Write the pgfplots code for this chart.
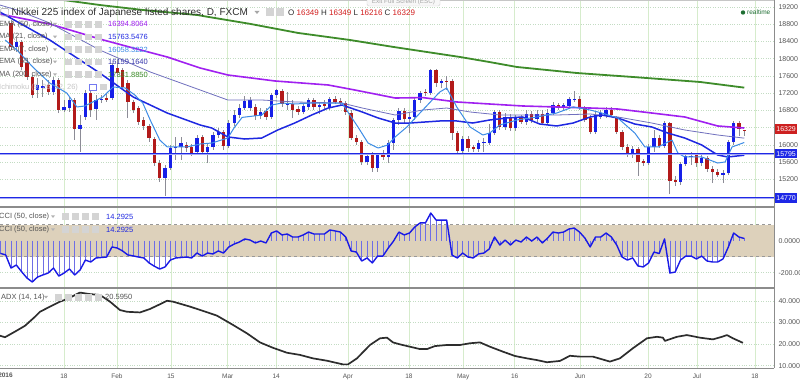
\documentclass[border=0pt]{standalone}
\usepackage{fontspec}
\setmainfont{Liberation Sans}
\usepackage{pgfplots}
\usepackage{pgfplotstable}
\pgfplotsset{compat=1.18}

\definecolor{cred}{RGB}{178,26,26}
\definecolor{cblue}{RGB}{22,32,232}
\definecolor{wick}{RGB}{140,140,150}
\definecolor{emapurple}{RGB}{160,32,240}
\definecolor{mathin}{RGB}{112,112,190}
\definecolor{mablue}{RGB}{30,40,225}
\definecolor{emalight}{RGB}{60,140,230}
\definecolor{smagreen}{RGB}{62,140,42}
\definecolor{hline}{RGB}{30,40,230}
\definecolor{gridv}{RGB}{214,236,204}
\definecolor{gridh}{RGB}{195,220,195}
\definecolor{beige}{RGB}{221,209,187}
\definecolor{cciline}{RGB}{25,25,230}
\definecolor{ccistem}{RGB}{110,110,230}
\definecolor{adxc}{RGB}{45,45,45}
\definecolor{sepgray}{RGB}{140,140,140}
\definecolor{labgray}{RGB}{85,85,85}
\definecolor{boxred}{RGB}{205,32,32}
\definecolor{boxblue}{RGB}{30,40,230}
\definecolor{ohlcred}{RGB}{210,30,30}
\definecolor{icongray}{RGB}{212,212,212}
\definecolor{rtgreen}{RGB}{30,110,50}
\definecolor{titlegray}{RGB}{45,45,45}
\definecolor{v4}{RGB}{50,50,170}

\pgfplotstableread{
i o h l c
1 18274 18482 18158 18390
5 17276 17554 17090 17392
6 17322 17508 17114 17369
8 17230 17578 17160 17508
10 16812 17044 16766 16882
11 16858 17114 16766 17044
13 16371 16696 15838 16464
14 16650 17276 16580 17206
16 16835 17160 16580 17044
17 17044 17160 16974 17067
19 17090 17902 17044 17856
29 15234 15536 14817 15466
30 15466 16000 15420 15930
31 15930 16186 15652 15954
32 15954 16186 15652 16046
35 15838 16232 15768 16162
37 15838 16046 15582 15954
38 15954 16302 15884 16232
39 16232 16394 16162 16302
41 15977 16580 15930 16510
42 16510 16812 16441 16696
43 16696 16951 16626 16858
44 16858 17137 16812 17021
45 16858 17114 16789 17044
47 16673 16858 16603 16766
49 16650 17206 16603 17160
50 17160 17299 17090 17276
52 16928 17230 16812 16974
55 16766 16974 16719 16905
56 16882 17090 16812 17044
58 16882 16998 16719 16928
60 16882 17114 16812 17067
67 15606 15814 15536 15745
69 15466 15814 15374 15768
71 15722 16116 15582 16046
72 16046 16626 15884 16580
73 16580 16858 16464 16789
75 16603 16742 16278 16650
76 16650 17090 16580 17044
77 17044 17253 16974 17206
79 17206 17763 17160 17740
81 17438 17531 17322 17485
85 15861 16209 15814 16139
88 15907 16116 15838 16046
89 16046 16162 15838 16070
90 16046 16487 16000 16278
91 16278 16812 16232 16766
93 16418 16742 16348 16650
95 16394 16696 16325 16626
97 16534 16812 16464 16719
99 16603 16812 16534 16719
101 16510 16835 16464 16742
102 16742 16998 16696 16928
104 16882 16974 16812 16928
105 16905 17114 16858 17067
106 17044 17253 16998 17067
110 16302 16766 16255 16696
111 16650 16812 16603 16742
112 16696 16882 16626 16812
117 15791 15977 15698 15907
120 15582 16023 15536 15954
121 15954 16348 15838 16162
123 15977 16557 15930 16510
126 15142 15606 15072 15559
127 15559 15791 15513 15745
128 15722 15838 15536 15745
130 15582 15791 15513 15698
134 15304 15420 15118 15350
135 15350 16116 15304 16070
136 16070 16557 16000 16510
}\upc

\pgfplotstableread{
i o h l c
0 18830 18900 18204 18274
2 18390 18436 17740 17810
3 17902 18018 17508 17578
4 17578 17624 17090 17160
7 17392 17508 17160 17230
9 17508 17554 16742 16812
12 17044 17090 16116 16371
15 17206 17322 16650 16812
18 17090 17183 16998 17044
20 17786 17972 17601 17670
21 17740 17786 17276 17346
22 17438 17508 16626 16998
23 16998 17044 16742 16812
24 16858 16905 16464 16534
25 16580 16650 16348 16441
26 16441 16487 16070 16162
27 16139 16186 15513 15582
28 15582 15652 15142 15234
33 16000 16070 15838 15930
34 15954 16023 15745 15814
36 16186 16232 15768 15838
40 16302 16348 15884 15977
46 16882 16951 16580 16673
48 16789 16858 16580 16650
51 17253 17299 16882 16951
53 16951 17044 16626 16812
54 16835 16905 16696 16766
57 17044 17090 16812 16882
59 16951 17044 16835 16905
61 17067 17137 16951 16998
62 17021 17090 16905 16974
63 16974 17021 16696 16766
64 16742 16812 16116 16162
65 16162 16232 16000 16070
66 16070 16116 15536 15606
68 15768 15838 15374 15466
70 15768 15884 15652 15722
74 16789 16858 16510 16603
78 17230 17299 17137 17206
80 17740 17763 17346 17438
82 17485 17601 17276 17462
83 17485 17531 16116 16278
84 16278 16325 15814 15861
86 16139 16209 15838 15930
87 15954 16000 15838 15907
92 16766 16812 16348 16418
94 16650 16719 16325 16394
96 16626 16696 16487 16534
98 16719 16789 16510 16580
100 16719 16812 16464 16510
103 16928 16974 16812 16882
107 17067 17137 16812 16858
108 16858 16905 16534 16580
109 16626 16696 16255 16302
113 16812 16882 16650 16696
114 16626 16673 16255 16302
115 16302 16348 15884 15954
116 15954 16023 15722 15791
118 15907 15954 15281 15606
119 15629 15675 15513 15582
122 16162 16232 15930 15977
124 16510 16534 14863 15165
125 15188 15281 15049 15142
129 15768 15814 15490 15582
131 15698 15745 15374 15443
132 15443 15513 15118 15374
133 15374 15443 15258 15304
137 16510 16557 16209 16371
138 16349 16349 16216 16329
}\downc

\pgfplotstableread{
i v
-2.1 19750
5 19480
9.8 19364
16.7 19248
25 19130
35 19016
45 18810
54 18600
63.8 18436
72 18274
84.5 18042
90 17926
95.2 17810
106.5 17670
117 17578
129.7 17462
138 17331
}\green

\pgfplotstableread{
i v
-2.1 19039
7.3 18807
13.0 18598
16.7 18459
23.0 18250
29.4 18042
35.6 17786
40.8 17624
49.7 17485
59.7 17392
64.7 17276
72.3 17090
77.5 17100
83.9 16998
90.1 16951
96.3 16905
102.7 16882
109.0 16858
114.2 16835
120.6 16742
126.8 16650
133.0 16441
138 16394
}\purple

\pgfplotstableread{
i v
-2.1 19248
1.1 19132
7.3 18830
16.7 18204
26.2 17694
35.6 17276
40.8 17044
47.2 17044
53.4 16998
62.3 16974
66.1 16858
72.3 16696
77.5 16812
82.0 16858
86.4 16766
92.0 16696
102.7 16696
109.0 16719
114.2 16650
120.6 16510
126.8 16348
133.0 16232
138 16159
}\thin

\pgfplotstableread{
i v
-2.1 19086
7.3 18436
16.7 17670
23.0 17114
29.4 16742
35.6 16464
37.8 16394
40.8 16186
44.0 16139
47.2 16162
50.2 16348
53.4 16510
56.6 16696
59.7 16858
62.3 16928
66.1 16766
69.1 16626
72.3 16510
75.1 16510
80.7 16557
83.9 16557
86.9 16510
90.1 16580
93.3 16626
96.3 16650
99.5 16487
102.7 16441
105.8 16510
109.0 16650
111.2 16696
114.2 16626
117.4 16487
120.6 16418
123.6 16278
126.8 16162
130.0 16000
133.0 15768
134.9 15722
138 15763
}\mablue

\pgfplotstableread{
i v
-1.1 18436
1.1 18204
4.1 17810
7.3 17438
10.5 17206
12.4 16882
13.9 16905
15.4 16998
17.3 17114
19.2 17346
21.5 17322
23.3 17160
24.8 16974
26.2 16580
28.0 16116
29.4 15954
30.5 15954
33.1 15954
35.6 16023
37.8 16046
40.8 16162
42.0 16400
43.5 16640
47.2 16696
49.1 16928
51.0 16974
53.4 16951
56.6 16974
62.3 16974
63.4 16766
65.3 16418
67.2 16046
69.1 15930
70.9 16000
72.3 16186
74.5 16418
77.5 16812
80.7 17230
82.0 17322
83.9 16882
86.4 16418
88.8 16232
90.1 16278
92.0 16464
95.2 16580
99.0 16650
102.7 16742
105.8 16882
109.0 16812
111.2 16742
114.2 16626
117.4 16278
119.3 15954
121.8 15954
124.4 16116
125.5 15814
126.8 15722
130.0 15722
133.0 15582
134.4 15606
135.7 15954
138 16058
}\emalightt

\pgfplotstableread{
i v
-2 -79
-1 -89
0 -171
1 -152
2 -194
3 -233
4 -258
5 -227
6 -214
7 -202
8 -171
9 -221
10 -202
11 -177
12 -214
13 -183
14 -121
15 -133
16 -108
17 -105
18 -102
19 -39
20 -46
21 -64
22 -89
23 -95
24 -102
25 -108
26 -139
27 -160
28 -177
29 -164
30 -121
31 -108
32 -105
33 -102
34 -108
35 -77
36 -96
37 -77
38 -83
39 -64
40 -77
41 -39
42 -21
43 -8
44 11
45 4
46 -14
47 -2
48 -14
49 48
50 61
51 36
52 42
53 23
54 23
55 36
56 54
57 42
58 42
59 42
60 67
61 61
62 54
63 23
64 -64
65 -71
66 -127
67 -108
68 -139
69 -96
70 -96
71 -46
72 -2
73 54
74 36
75 48
76 86
77 111
78 111
79 173
80 129
81 129
82 129
83 -90
84 -108
85 -77
86 -102
87 -108
88 -83
89 -77
90 -52
91 23
92 -27
93 4
94 -27
95 4
96 -8
97 23
98 -2
99 23
100 -14
101 17
102 54
103 48
104 54
105 73
106 79
107 54
108 17
109 -39
110 23
111 23
112 48
113 23
114 -27
115 -102
116 -121
117 -108
118 -158
119 -164
120 -139
121 -71
122 -80
123 11
124 -202
125 -196
126 -121
127 -96
128 -96
129 -114
130 -96
131 -127
132 -133
133 -133
134 -114
135 -40
136 48
137 23
138 14
}\cci

\pgfplotstableread{
i v
-2.07 23.9
-1.13 23.2
0.75 25.8
2.63 28.5
4.52 32.7
5.46 35.0
7.34 37.4
9.22 39.7
10.54 40.9
12.98 43.9
14.87 43.2
16.75 42.8
18.63 39.7
20.51 35.8
21.83 35.0
24.28 34.7
26.16 36.3
28.04 38.5
29.36 40.1
30.49 39.7
33.68 37.4
36.88 34.8
38.77 33.2
41.78 28.9
44.41 25.0
46.86 20.8
49.30 18.3
51.94 16.0
54.38 15.0
56.83 13.4
59.47 12.3
62.48 10.6
63.42 10.6
65.11 13.4
67.56 19.6
69.44 22.7
70.76 23.0
71.89 20.8
73.20 19.9
75.08 18.8
76.97 17.7
78.28 17.7
79.79 19.1
82.05 19.6
84.49 19.6
86.38 20.4
88.26 20.8
90.14 18.8
92.59 16.5
94.84 14.5
97.10 13.4
98.98 12.6
100.87 11.6
103.31 12.2
105.19 14.6
107.07 14.2
109.52 14.2
112.72 11.9
114.60 13.4
117.05 18.1
119.68 22.7
121.57 23.4
122.69 23.0
123.07 21.5
125.33 23.4
127.21 24.2
129.66 23.0
132.10 22.2
133.80 23.4
134.74 24.2
135.87 22.7
137.75 20.6
}\adx

\pgfplotsset{
  panel/.style={
    scale only axis, width=774pt, xmin=-2.07, xmax=143.6,
    axis line style={draw=none},
    major tick length=0pt,
    xtick={9.97,19.95,30.1,40.8,49.9,63.4,74.9,85.1,94.8,107.1,119.9,129.1,140.0},
    xmajorgrids, ymajorgrids,
    x grid style={color=gridv, line width=0.7pt},
    y grid style={color=gridh, dotted, line width=0.6pt},
    ytick pos=right, yticklabel pos=right,
    yticklabel style={font=\fontsize{7}{8}\selectfont, text=labgray, anchor=west, xshift=1pt},
    xticklabel style={font=\fontsize{6.5}{7}\selectfont, text=labgray, yshift=-2.5pt},
  },
  wicks/.style={draw=none, mark=none, forget plot,
    error bars/.cd, y dir=plus, y explicit, error mark=none,
    error bar style={draw=wick, line width=0.8pt}},
  bodies/.style={draw=none, mark=none, forget plot,
    error bars/.cd, y dir=plus, y explicit, error mark=none,
    error bar style={draw=#1, line width=3.3pt}},
}

\begin{document}
\begin{tikzpicture}[x=1pt,y=1pt]
\useasboundingbox (0,0) rectangle (800,380);
\clip (0,0) rectangle (800,380);
\fill[white] (0,0) rectangle (800,380);

% ---------------- main price panel ----------------
\begin{axis}[panel, at={(0pt,173pt)}, anchor=south west, height=207pt,
  ymin=14561.6, ymax=19364,
  ytick={15200,15600,16000,16400,16800,17200,17600,18000,18400,18800,19200},
  yticklabels={15200,15600,16000,,16800,17200,17600,18000,18400,18800,19200},
  xticklabels={}]
  \addplot[wicks] table[x=i, y=l, y error expr=\thisrow{h}-\thisrow{l}] {\upc};
  \addplot[wicks] table[x=i, y=l, y error expr=\thisrow{h}-\thisrow{l}] {\downc};
  \addplot[bodies=cblue] table[x=i, y=o, y error expr=\thisrow{c}-\thisrow{o}] {\upc};
  \addplot[bodies=cred] table[x=i, y=c, y error expr=\thisrow{o}-\thisrow{c}] {\downc};
  \addplot[smagreen, line width=1.8pt, line join=round] table[x=i,y=v] {\green};
  \addplot[emapurple, line width=1.6pt, line join=round] table[x=i,y=v] {\purple};
  \addplot[mathin, line width=0.8pt, line join=round] table[x=i,y=v] {\thin};
  \addplot[mablue, line width=1.5pt, line join=round] table[x=i,y=v] {\mablue};
  \addplot[emalight, line width=1.0pt, line join=round] table[x=i,y=v] {\emalightt};
  \addplot[draw=hline, double=hline!40, double distance=0.5pt, line width=0.8pt] coordinates {(-2.07,15795) (143.6,15795)};
  \addplot[draw=hline, double=hline!40, double distance=0.5pt, line width=0.8pt] coordinates {(-2.07,14770) (143.6,14770)};
\end{axis}

% ---------------- CCI panel ----------------
\begin{axis}[panel, at={(0pt,92pt)}, anchor=south west, height=80.5pt,
  ymin=-295.6, ymax=207.5,
  ytick={-200,0}, yticklabels={-200.0000,0.0000},
  xticklabels={}]
  \fill[beige] (axis cs:-2.07,-100) rectangle (axis cs:143.6,100);
  \draw[dashed, gray!80, line width=0.5pt] (axis cs:-2.07,100) -- (axis cs:143.6,100);
  \draw[dashed, gray!80, line width=0.5pt] (axis cs:-2.07,-100) -- (axis cs:143.6,-100);
  \addplot[ycomb, ccistem, line width=0.6pt] table[x=i,y=v] {\cci};
  \addplot[cciline, line width=1.4pt, line join=round] table[x=i,y=v] {\cci};
\end{axis}

% ---------------- ADX panel ----------------
\begin{axis}[panel, at={(0pt,12pt)}, anchor=south west, height=80pt,
  ymin=8.93, ymax=46.03,
  ytick={10,20,30,40}, yticklabels={10.0000,20.0000,30.0000,40.0000},
  xticklabels={18,Feb,15,Mar,14,Apr,18,May,16,Jun,20,Jul,18}]
  \addplot[adxc, line width=1.7pt, line join=round] table[x=i,y=v] {\adx};
\end{axis}

% ---------------- frame lines ----------------
\draw[gray!45, line width=0.6pt] (0,379.6) -- (774,379.6);
\draw[sepgray, line width=1.3pt] (0,173) -- (774,173);
\draw[sepgray, line width=1.3pt] (0,92) -- (774,92);
\draw[sepgray, line width=1pt] (0,12) -- (774,12);
\draw[sepgray, line width=0.8pt] (774,12) -- (774,380);
\node[font=\fontsize{6.5}{7}\selectfont\bfseries, text=labgray] at (5.5,5) {2016};

% ---------------- price boxes ----------------
\node[fill=boxred, text=white, anchor=west, inner sep=1.2pt, minimum height=9.5pt, font=\fontsize{7}{8}\selectfont] at (775,251) {16329};
\node[fill=boxblue, text=white, anchor=west, inner sep=1.2pt, minimum height=9.5pt, font=\fontsize{7}{8}\selectfont] at (775,226.4) {15795};
\node[fill=boxblue, text=white, anchor=west, inner sep=1.2pt, minimum height=9.5pt, font=\fontsize{7}{8}\selectfont] at (775,182) {14770};

% ---------------- header texts ----------------
\draw[gray!55, rounded corners=1pt, line width=0.6pt] (0.8,364) rectangle (8.6,371.5);
\node[anchor=west, inner sep=0pt, text=titlegray, font=\fontsize{10}{11}\selectfont] at (11.5,367.5) {Nikkei 225 index of Japanese listed shares, D, FXCM};
\fill[gray!70] (254.5,369) -- (259.5,369) -- (257,366) -- cycle;
\fill[icongray] (265.5,364) rectangle (273.5,372);
\fill[icongray] (275.5,364) rectangle (283.5,372);
\node[anchor=west, inner sep=0pt, text=titlegray, font=\fontsize{8}{9}\selectfont] at (288,367.5)
  {O {\color{ohlcred}16349} H {\color{ohlcred}16349} L {\color{ohlcred}16216} C {\color{ohlcred}16329}};
\draw[fill=gray!6, draw=gray!35, rounded corners=1.5pt] (367,374) rectangle (440,385);
\node[text=gray!70, font=\fontsize{6.3}{7}\selectfont, inner sep=0pt] at (403.5,378.3) {Exit Full Screen (ESC)};
\fill[rtgreen] (743,367.5) circle (2.2);
\node[anchor=west, inner sep=0pt, text=rtgreen, font=\fontsize{6.5}{7}\selectfont] at (747,367.5) {realtime};

% indicator rows
\foreach \yy/\lab/\val/\col in {355.7/EMA (50{,} close)/16394.8064/emapurple,
                                343/MA (21{,} close)/15763.5476/mablue,
                                330.3/EMA (7{,} close)/16058.3222/emalight,
                                318/EMA (55{,} close)/16159.1640/v4,
                                305.3/MA (200{,} close)/17331.8850/smagreen}{
  \node[anchor=west, inner sep=0pt, text=labgray, font=\fontsize{7.5}{8}\selectfont] at (-1,\yy) {\lab};
  \fill[gray!60] (53,\yy+1.3) -- (57,\yy+1.3) -- (55,\yy-1.2) -- cycle;
  \foreach \bx in {65,75,85,95}{\fill[icongray] (\bx,\yy-3.3) rectangle (\bx+7,\yy+3.3);}
  \node[anchor=west, inner sep=0pt, text=\col, font=\fontsize{7.5}{8}\selectfont] at (108,\yy) {\val};
}
\node[anchor=west, inner sep=0pt, text=gray!45, font=\fontsize{7.5}{8}\selectfont] at (-1,292.7) {Ichimoku (9, 26, 52, 26)};
\draw[cblue!60, fill=white, line width=0.6pt] (89.5,289.5) rectangle (96.5,296);
\fill[icongray] (100,289.5) rectangle (107,296);

% CCI labels
\foreach \yy in {163.3,150.3}{
  \node[anchor=west, inner sep=0pt, text=labgray, font=\fontsize{7.5}{8}\selectfont] at (-1,\yy) {CCI (50, close)};
  \fill[gray!60] (51,\yy+1.3) -- (55,\yy+1.3) -- (53,\yy-1.2) -- cycle;
  \foreach \bx in {62,72,82,92}{\fill[icongray] (\bx,\yy-3.3) rectangle (\bx+7,\yy+3.3);}
  \node[anchor=west, inner sep=0pt, text=mablue, font=\fontsize{7.5}{8}\selectfont] at (106,\yy) {14.2925};
}
% ADX label
\node[anchor=west, inner sep=0pt, text=labgray, font=\fontsize{7.5}{8}\selectfont] at (1,82.7) {ADX (14, 14)};
\fill[gray!60] (44,84) -- (48,84) -- (46,81.5) -- cycle;
\foreach \bx in {55,65,75,85,95}{\fill[icongray] (\bx,79.4) rectangle (\bx+7,86);}
\node[anchor=west, inner sep=0pt, text=labgray, font=\fontsize{7.5}{8}\selectfont] at (105,82.7) {20.5950};
\end{tikzpicture}
\end{document}
